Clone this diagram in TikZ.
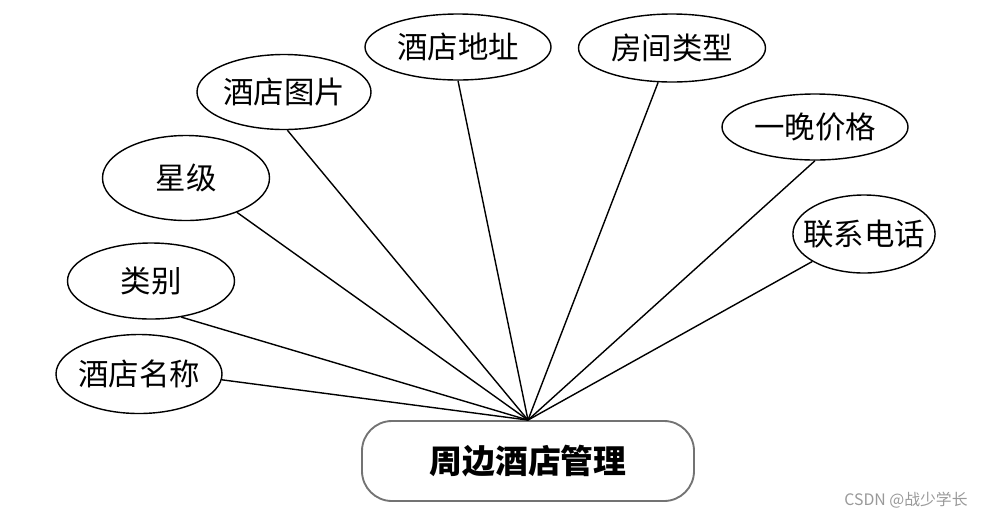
\documentclass[tikz,border=0pt]{standalone}
\usepackage{fontspec}
\setmainfont{Noto Sans CJK SC}
\usetikzlibrary{shapes.geometric, positioning}

\begin{document}
\begin{tikzpicture}[
  x=0.03cm, y=-0.03cm,
  every node/.style={font=\fontsize{26}{30}\selectfont},
  attr/.style={ellipse, draw, line width=1.2pt, inner xsep=-0.32cm, inner ysep=0pt},
  mainbox/.style={rectangle, rounded corners=0.9cm, draw=black!55,
                  line width=1.6pt, minimum width=9.96cm, minimum height=2.4cm,
                  font=\fontsize{28}{32}\selectfont\bfseries},
  link/.style={line width=1.2pt},
]
\useasboundingbox (0,0) rectangle (990,518);

\node[mainbox] (M) at (528,461) {周边酒店管理};
\coordinate (hub) at (M.north);

\node[attr, minimum width=4.98cm, minimum height=2.37cm] (name)  at (139,374) {酒店名称};
\node[attr, minimum width=5.01cm, minimum height=2.28cm] (kind)  at (151,281) {类别};
\node[attr, minimum width=5.01cm, minimum height=2.55cm] (star)  at (186,178) {星级};
\node[attr, minimum width=5.22cm, minimum height=2.25cm] (pic)   at (284,92)  {酒店图片};
\node[attr, minimum width=5.58cm, minimum height=1.98cm] (addr)  at (458,47)  {酒店地址};
\node[attr, minimum width=5.61cm, minimum height=2.04cm] (room)  at (672,48)  {房间类型};
\node[attr, minimum width=5.58cm, minimum height=1.98cm] (price) at (815,127) {一晚价格};
\node[attr, minimum width=4.26cm, minimum height=2.34cm] (tel)   at (864,234) {联系电话};

\foreach \a/\ang in {name/-4, kind/-50, star/-34, pic/-85, addr/-90,
                     room/-112, price/-90, tel/-152}
  \draw[link] (\a.\ang) -- (hub);

\node[font=\fontsize{13.5}{16}\selectfont, text=black!40] (wm) at (906,500) {CSDN @战少学长};
\end{tikzpicture}
\end{document}
